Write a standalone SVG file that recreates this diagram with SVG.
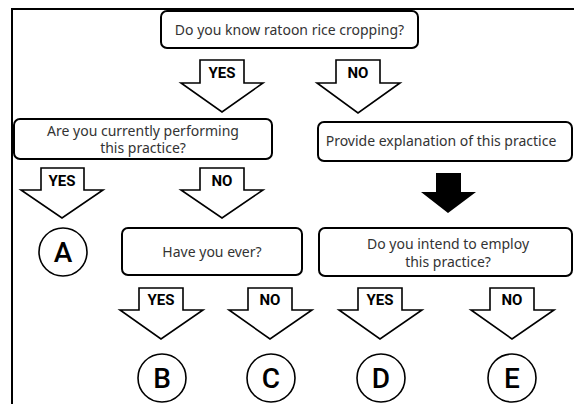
<svg xmlns="http://www.w3.org/2000/svg" width="574" height="404" viewBox="0 0 574 404">
<style>
.box{fill:#fff;stroke:#000;stroke-width:2;}
.t{font-family:"Noto Sans","Noto Sans CJK JP",sans-serif;font-size:14px;fill:#333;text-anchor:middle;}
.arr{fill:#fff;stroke:#000;stroke-width:1.6;stroke-linejoin:miter;}
.al{font-family:Roboto,"Liberation Sans",sans-serif;font-weight:bold;font-size:15px;fill:#000;text-anchor:middle;}
.circ{fill:#fff;stroke:#000;stroke-width:1.6;}
.cl{font-family:Roboto,"Liberation Sans",sans-serif;font-weight:500;font-size:28px;fill:#000;text-anchor:middle;}
</style>
<rect width="574" height="404" fill="#fff"/>
<path d="M12,404 V9 H574" fill="none" stroke="#000" stroke-width="2"/>

<g id="q1"><rect class="box" x="161" y="11" width="257" height="37" rx="6"/><text class="t" x="289.5" y="34.5">Do you know ratoon rice cropping?</text></g>
<g id="q2"><rect class="box" x="14" y="119" width="258" height="40" rx="6"/><text class="t" x="143" y="135.5">Are you currently performing</text><text class="t" x="143" y="153">this practice?</text></g>
<g id="explain"><rect class="box" x="318" y="122" width="254" height="39" rx="6"/><text class="t" x="441" y="146">Provide explanation of this practice</text></g>
<g id="q3"><rect class="box" x="122" y="228" width="180" height="47" rx="6"/><text class="t" x="212" y="256.5">Have you ever?</text></g>
<g id="q4"><rect class="box" x="319" y="228" width="253" height="48" rx="6"/><text class="t" x="448" y="248.5">Do you intend to employ</text><text class="t" x="448" y="266.5">this practice?</text></g>

<g id="A"><circle class="circ" cx="63" cy="252" r="24"/><text class="cl" x="63" y="262">A</text></g>
<g id="B"><circle class="circ" cx="162" cy="378" r="24"/><text class="cl" x="162" y="388">B</text></g>
<g id="C"><circle class="circ" cx="271" cy="378" r="24"/><text class="cl" x="271" y="388">C</text></g>
<g id="D"><circle class="circ" cx="381" cy="378" r="24"/><text class="cl" x="381" y="388">D</text></g>
<g id="E"><circle class="circ" cx="512" cy="378" r="24"/><text class="cl" x="512" y="388">E</text></g>

<g id="connectors">
<path class="arr" d="M200,60 H244 V83 H263 L222,112 L181,83 H200 Z"/><text class="al" x="222" y="78">YES</text>
<path class="arr" d="M336,60 H380 V83 H400 L358,113 L317,83 H336 Z"/><text class="al" x="358" y="78">NO</text>
<path class="arr" d="M41,168 H84 V190 H103 L62,218 L21,190 H41 Z"/><text class="al" x="62" y="186">YES</text>
<path class="arr" d="M200,168 H244 V190 H263 L222,218 L181,190 H200 Z"/><text class="al" x="222" y="186">NO</text>
<path d="M436,173 H461 V192 H476 L448,213 L421,192 H436 Z" fill="#000"/>
<path class="arr" d="M139,288 H183 V310 H203 L161,339 L120,310 H139 Z"/><text class="al" x="161" y="305">YES</text>
<path class="arr" d="M248,288 H292 V310 H312 L270,339 L229,310 H248 Z"/><text class="al" x="270" y="305">NO</text>
<path class="arr" d="M358,288 H402 V310 H422 L380,339 L339,310 H358 Z"/><text class="al" x="380" y="305">YES</text>
<path class="arr" d="M490,288 H534 V310 H554 L512,339 L471,310 H490 Z"/><text class="al" x="512" y="305">NO</text>
</g>
</svg>
